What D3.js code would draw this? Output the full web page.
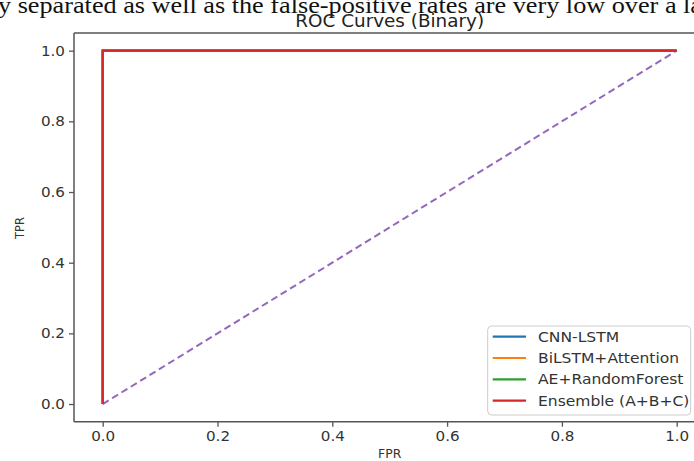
<!DOCTYPE html>
<html><head><meta charset="utf-8">
<script src="https://cdn.jsdelivr.net/npm/d3@7"></script>
<style>body{margin:0;background:#fff;}svg{display:block;}</style>
</head><body>
<script>
const seriesNames = ["CNN-LSTM", "BiLSTM+Attention", "AE+RandomForest", "Ensemble (A+B+C)"];
const seriesColors = ["#1f77b4", "#ff7f0e", "#2ca02c", "#d62728"];
const fprCnnLstm = [0, 0, 1];
const tprCnnLstm = [0, 1, 1];
const fprBiLstm = [0, 0, 1];
const tprBiLstm = [0, 1, 1];
const fprAeRf = [0, 0, 1];
const tprAeRf = [0, 1, 1];
const fprEnsemble = [0, 0, 1];
const tprEnsemble = [0, 1, 1];
const chanceX = [0, 1];
const chanceY = [0, 1];
const xTicks = [0.0, 0.2, 0.4, 0.6, 0.8, 1.0];
const yTicks = [0.0, 0.2, 0.4, 0.6, 0.8, 1.0];
const titleText = "ROC Curves (Binary)";
const captionText = "y separated as well as the false-positive rates are very low over a la";

(function () {
const W = 694, H = 461;
const svg = d3.select("body").append("svg").attr("width", W).attr("height", H);
const font = "'DejaVu Sans', sans-serif";
const sx = 1.08;

const pL = 74, pR = 705.4, pT = 33, pB = 421.7;
const x = d3.scaleLinear().domain([-0.05, 1.05]).range([pL, pR]);
const y = d3.scaleLinear().domain([-0.05, 1.05]).range([pB, pT]);

function stretchedText(g, tx, ty, txt, size, anchor, color, scaleX) {
  return g.append("text")
    .attr("transform", `translate(${tx},${ty}) scale(${scaleX},1)`)
    .attr("text-anchor", anchor)
    .attr("font-family", font)
    .attr("font-size", size)
    .attr("fill", color)
    .text(txt);
}

svg.append("text").attr("x", -2).attr("y", 13)
  .attr("font-family", "'Liberation Serif', 'Times New Roman', serif")
  .attr("font-size", 24).attr("fill", "#111")
  .attr("textLength", 704).attr("lengthAdjust", "spacingAndGlyphs")
  .text(captionText);

stretchedText(svg, (pL + pR) / 2, 27, titleText, 17, "middle", "#222", sx);

const series = [
  [fprCnnLstm, tprCnnLstm], [fprBiLstm, tprBiLstm], [fprAeRf, tprAeRf], [fprEnsemble, tprEnsemble]
];
const line = d3.line().x(d => x(d[0])).y(d => y(d[1]));
const plot = svg.append("g");
plot.append("path")
  .attr("d", line(chanceX.map((v, i) => [v, chanceY[i]])))
  .attr("fill", "none").attr("stroke", "#9467bd").attr("stroke-width", 2)
  .attr("stroke-dasharray", "7,4");
series.forEach((s, k) => {
  plot.append("path")
    .attr("d", line(s[0].map((v, i) => [v, s[1][i]])))
    .attr("fill", "none").attr("stroke", seriesColors[k]).attr("stroke-width", 2.2)
    .attr("stroke-linejoin", "miter");
});

const axisColor = "#555";
const xAxis = svg.append("g").attr("transform", `translate(0,${pB})`)
  .call(d3.axisBottom(x).tickValues(xTicks).tickFormat(d3.format(".1f")).tickSizeOuter(0).tickSize(5).tickPadding(4));
const yAxis = svg.append("g").attr("transform", `translate(${pL},0)`)
  .call(d3.axisLeft(y).tickValues(yTicks).tickFormat(d3.format(".1f")).tickSizeOuter(0).tickSize(5).tickPadding(4));
[xAxis, yAxis].forEach(a => {
  a.select(".domain").remove();
  a.selectAll(".tick line").attr("stroke", axisColor).attr("stroke-width", 1.3);
  a.selectAll(".tick text").attr("font-family", font).attr("font-size", 14).attr("fill", "#333");
});
xAxis.selectAll(".tick text").attr("transform", `scale(${sx},1)`);
yAxis.selectAll(".tick text").attr("transform", `translate(-9,0) scale(${sx},1)`).attr("x", 0);

const sp = svg.append("g").attr("stroke", axisColor).attr("stroke-width", 1.5).attr("fill", "none");
sp.append("line").attr("x1", pL).attr("x2", pL).attr("y1", pT).attr("y2", pB);
sp.append("line").attr("x1", pL).attr("x2", pR).attr("y1", pB).attr("y2", pB);
sp.append("line").attr("x1", pL).attr("x2", pR).attr("y1", pT).attr("y2", pT);
sp.append("line").attr("x1", pR).attr("x2", pR).attr("y1", pT).attr("y2", pB);

stretchedText(svg, (pL + pR) / 2, 458, "FPR", 11.5, "middle", "#333", sx);
svg.append("text").attr("transform", "translate(24,228) rotate(-90)")
  .attr("text-anchor", "middle").attr("font-family", font).attr("font-size", 11.5)
  .attr("fill", "#333").text("TPR");

const lg = svg.append("g");
lg.append("rect").attr("x", 487.7).attr("y", 326).attr("width", 203).attr("height", 89)
  .attr("rx", 4).attr("fill", "#fff").attr("fill-opacity", 0.85)
  .attr("stroke", "#ccc").attr("stroke-width", 1);
seriesNames.forEach((n, i) => {
  const yy = 336.7 + i * 21.3;
  lg.append("line").attr("x1", 492.7).attr("x2", 526).attr("y1", yy).attr("y2", yy)
    .attr("stroke", seriesColors[i]).attr("stroke-width", 2.2);
  stretchedText(lg, 538, yy + 5, n, 14, "start", "#333", 1.11);
});
})();
</script>
</body></html>
